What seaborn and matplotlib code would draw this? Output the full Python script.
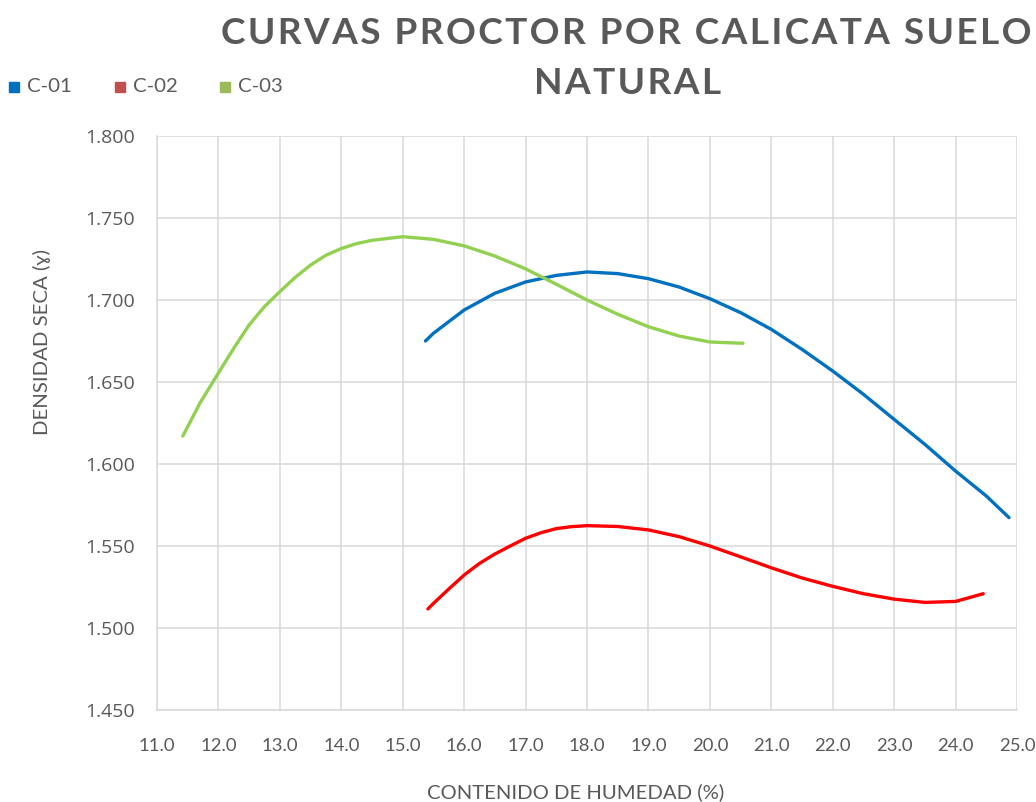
import matplotlib
matplotlib.use("Agg")
import matplotlib.pyplot as plt
from matplotlib.patches import Rectangle
import seaborn as sns
import pandas as pd

# ---- data ----
c01_x = [15.37, 15.5, 16.0, 16.5, 17.0, 17.5, 18.0, 18.5, 19.0, 19.5, 20.0, 20.5,
         21.0, 21.5, 22.0, 22.5, 23.0, 23.5, 24.0, 24.5, 24.87]
c01_y = [1.675, 1.6797, 1.6939, 1.7041, 1.711, 1.715, 1.7171, 1.7161, 1.713, 1.7079,
         1.7008, 1.6923, 1.6821, 1.6699, 1.6567, 1.6425, 1.6272, 1.612, 1.5957, 1.5805, 1.5673]

c02_x = [15.41, 15.5, 15.75, 16.0, 16.25, 16.5, 16.75, 17.0, 17.25, 17.5, 17.75, 18.0,
         18.5, 19.0, 19.5, 20.0, 20.5, 21.0, 21.5, 22.0, 22.5, 23.0, 23.5, 24.0, 24.45]
c02_y = [1.5116, 1.515, 1.5238, 1.5323, 1.5394, 1.5451, 1.550, 1.5547, 1.5581, 1.5606,
         1.5618, 1.5624, 1.5619, 1.5598, 1.5557, 1.550, 1.5434, 1.5367, 1.5305, 1.5254,
         1.5209, 1.5176, 1.5156, 1.5162, 1.5209]

c03_x = [11.42, 11.7, 12.0, 12.25, 12.5, 12.75, 13.0, 13.25, 13.5, 13.75, 14.0, 14.25,
         14.5, 15.0, 15.5, 16.0, 16.5, 17.0, 17.5, 18.0, 18.5, 19.0, 19.5, 20.0, 20.54]
c03_y = [1.617, 1.6372, 1.6555, 1.6706, 1.6848, 1.696, 1.7051, 1.7138, 1.7213, 1.7273,
         1.7314, 1.7344, 1.7364, 1.7386, 1.737, 1.733, 1.7268, 1.719, 1.7096, 1.700,
         1.6913, 1.6837, 1.678, 1.6744, 1.6736]

series_names = ["C-01", "C-02", "C-03"]
line_colors = ["#0070C0", "#FF0000", "#92D050"]
legend_colors = ["#0070C0", "#C0504D", "#9BBB59"]

x_ticks = [11.0, 12.0, 13.0, 14.0, 15.0, 16.0, 17.0, 18.0, 19.0, 20.0, 21.0, 22.0, 23.0, 24.0, 25.0]
y_ticks = [1.450, 1.500, 1.550, 1.600, 1.650, 1.700, 1.750, 1.800]

title_lines = ["CURVAS PROCTOR POR CALICATA SUELO", "NATURAL"]
x_label = "CONTENIDO DE HUMEDAD (%)"
y_label = "DENSIDAD SECA (ɣ)"

# ---- build frame ----
frames = []
for name, xs, ys in zip(series_names, [c01_x, c02_x, c03_x], [c01_y, c02_y, c03_y]):
    frames.append(pd.DataFrame({"humedad": xs, "densidad": ys, "serie": name}))
df = pd.concat(frames, ignore_index=True)

sns.set_theme(style="white")
plt.rcParams["font.family"] = ["DejaVu Sans"]
NARROW = ["Lato", "DejaVu Sans"]
TICKF = ["Open Sans", "DejaVu Sans"]

gray = "#595959"
W, H = 1036, 802
fig = plt.figure(figsize=(W / 100, H / 100), dpi=100)
ax = fig.add_axes([157 / W, 1 - 710 / H, (1017 - 157) / W, (710 - 136) / H])

sns.lineplot(data=df, x="humedad", y="densidad", hue="serie", hue_order=series_names,
             palette=dict(zip(series_names, line_colors)), sort=False, estimator=None,
             linewidth=2.4, legend=False, ax=ax, solid_capstyle="round",
             solid_joinstyle="round")

ax.set_xlabel("")
ax.set_ylabel("")
ax.set_xlim(11.0, 25.0)
ax.set_ylim(1.450, 1.800)
ax.set_xticks(x_ticks)
ax.set_xticklabels([f"{v:.1f}" for v in x_ticks], family=NARROW, fontsize=13.3, color=gray)
ax.set_yticks(y_ticks)
ax.set_yticklabels([f"{v:.3f}" for v in y_ticks], family=TICKF, fontsize=14, color=gray)
ax.tick_params(axis="both", length=0)
ax.tick_params(axis="y", pad=16)
ax.tick_params(axis="x", pad=20)
ax.grid(True, color="#D9D9D9", linewidth=1.1)
ax.set_axisbelow(True)
for s in ax.spines.values():
    s.set_visible(False)
for k in ("left", "bottom"):
    ax.spines[k].set_visible(True)
    ax.spines[k].set_color("#D9D9D9")
    ax.spines[k].set_linewidth(1.1)

renderer = fig.canvas.get_renderer()


def fit(txt, target_px):
    bb = txt.get_window_extent(renderer=renderer)
    txt.set_fontsize(txt.get_fontsize() * target_px / bb.width)


def spaced(s):
    return "\u200a".join(s)


# axis labels as figure texts at measured positions
xl = fig.text(576 / W, 1 - 792 / H, x_label, ha="center", va="center",
              family=NARROW, fontsize=14, color=gray)
fit(xl, 297)
yl = fig.text(42 / W, 1 - 342 / H, y_label, ha="center", va="center", rotation=90,
              family=NARROW, fontsize=14, color=gray)
bb = yl.get_window_extent(renderer=renderer)
yl.set_fontsize(yl.get_fontsize() * 186 / bb.height)

# title (letter-spaced)
t1 = fig.text(626 / W, 1 - 33 / H, spaced(title_lines[0]), ha="center", va="center",
              family=NARROW, fontweight="bold", fontsize=28, color=gray)
fit(t1, 806)
t2 = fig.text(628 / W, 1 - 83 / H, spaced(title_lines[1]), ha="center", va="center",
              family=NARROW, fontweight="bold", fontsize=t1.get_fontsize(), color=gray)

# legend (top-left)
leg_x = [9, 115, 220]
for lx, name, col in zip(leg_x, series_names, legend_colors):
    fig.patches.append(Rectangle((lx / W, 1 - 92 / H), 10 / W, 10 / H,
                                 transform=fig.transFigure, color=col, figure=fig))
    lt = fig.text((lx + 18) / W, 1 - 87 / H, name, ha="left", va="center",
                  family=NARROW, fontsize=14, color=gray)
    fit(lt, 45)

fig.savefig("out.png", dpi=100)
